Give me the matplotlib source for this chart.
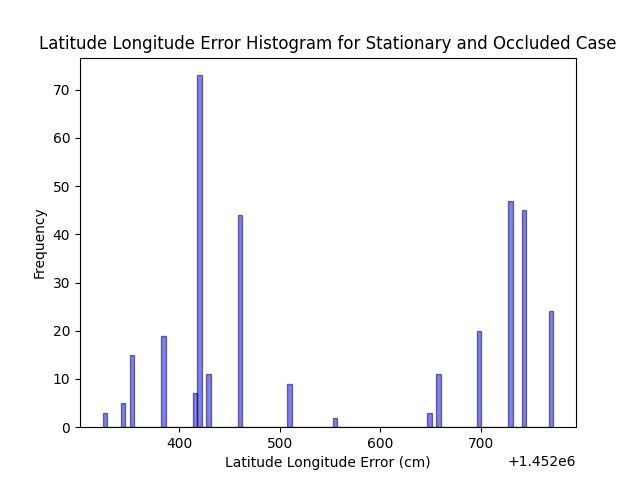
import matplotlib
matplotlib.use('Agg')
import matplotlib.pyplot as plt
import numpy as np

# error values (cm) and how often each one occurs
base = 1452000.0
offsets = [324.0, 343.9, 352.9, 384.5, 415.9, 420.3, 429.3, 460.6,
           509.9, 554.7, 648.8, 657.8, 698.1, 729.5, 742.9, 772.0]
counts = [3, 5, 15, 19, 7, 73, 11, 44,
          9, 2, 3, 11, 20, 47, 45, 24]

errors = np.repeat(base + np.array(offsets), counts)

plt.figure(figsize=(6.4, 4.8), dpi=100)
plt.hist(errors, bins=100, color='blue', alpha=0.5, edgecolor='black')
plt.title('Latitude Longitude Error Histogram for Stationary and Occluded Case')
plt.xlabel('Latitude Longitude Error (cm)')
plt.ylabel('Frequency')
plt.savefig('out.png')
